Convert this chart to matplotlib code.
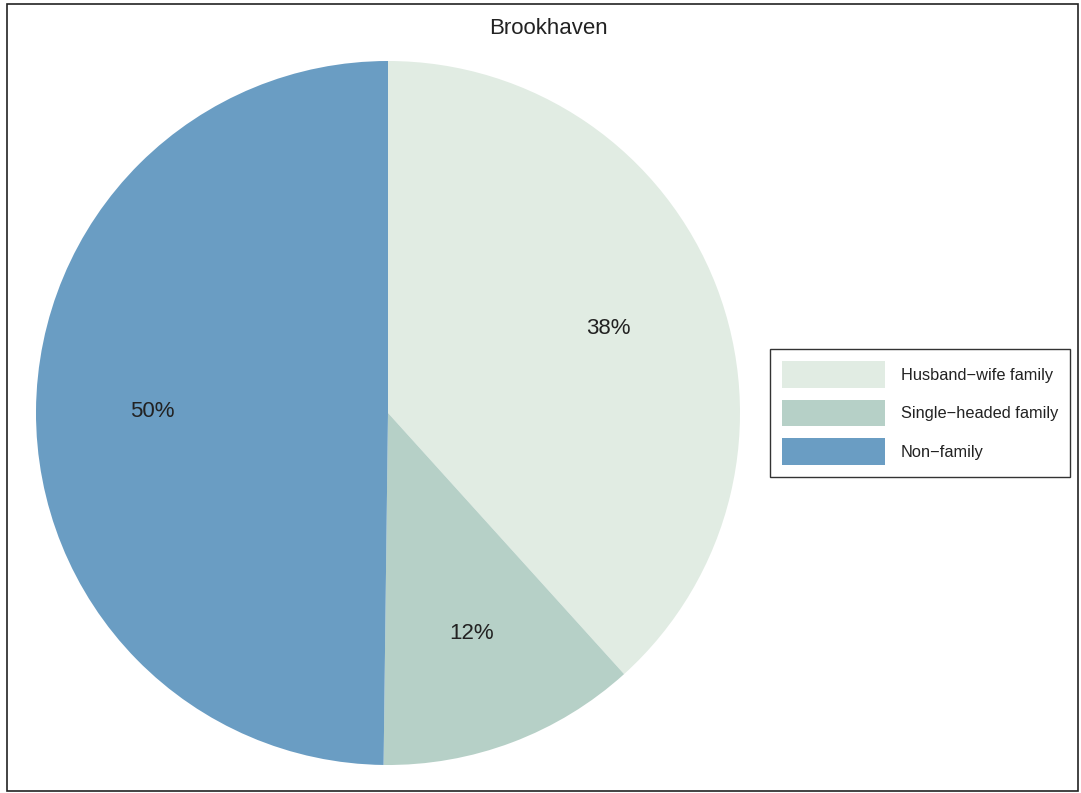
import matplotlib
matplotlib.use("Agg")
import matplotlib.pyplot as plt
from matplotlib.patches import Rectangle

plt.rcParams['font.family'] = ['Liberation Sans', 'DejaVu Sans']

# household shares for the town
categories = ['Husband\u2212wife family', 'Single\u2212headed family', 'Non\u2212family']
shares = [38.3, 11.9, 49.8]
colors = ['#e1ece3', '#b6d0c7', '#6a9dc3']
title = 'Brookhaven'

W, H = 1081, 793
fig = plt.figure(figsize=(W / 100, H / 100), dpi=100)

# square axes holding the pie (centre ~ (388, 413) px, radius ~352 px)
cx, cy, r = 388, 413, 352
ax = fig.add_axes([(cx - r) / W, (H - cy - r) / H, 2 * r / W, 2 * r / H])
wedges, _, autotexts = ax.pie(
    shares, colors=colors, startangle=90, counterclock=False,
    autopct='%.0f%%', pctdistance=0.67, radius=1.0,
    wedgeprops=dict(linewidth=0),
    textprops=dict(fontsize=16, color='#222222'))
ax.set_xlim(-1, 1)
ax.set_ylim(-1, 1)
ax.set_aspect('equal')
ax.axis('off')

fig.text(548 / W, 1 - 28 / H, title, ha='center', va='center',
         fontsize=16, color='#222222')

leg = fig.legend(wedges, categories, loc='center left',
                 bbox_to_anchor=(770 / W, 1 - 413 / H),
                 fontsize=11.8, frameon=True, fancybox=False,
                 edgecolor='black', handlelength=6.3, handleheight=2.15,
                 handletextpad=0.95, labelspacing=0.7, borderpad=0.72,
                 borderaxespad=0)
leg.get_frame().set_linewidth(1.0)
for t in leg.get_texts():
    t.set_color('#222222')

# outer border of the figure
fig.patches.append(Rectangle((7 / W, 2 / H), 1071 / W, 787 / H,
                             transform=fig.transFigure, fill=False,
                             edgecolor='#222222', linewidth=1.2))

fig.savefig('out.png', dpi=100)
